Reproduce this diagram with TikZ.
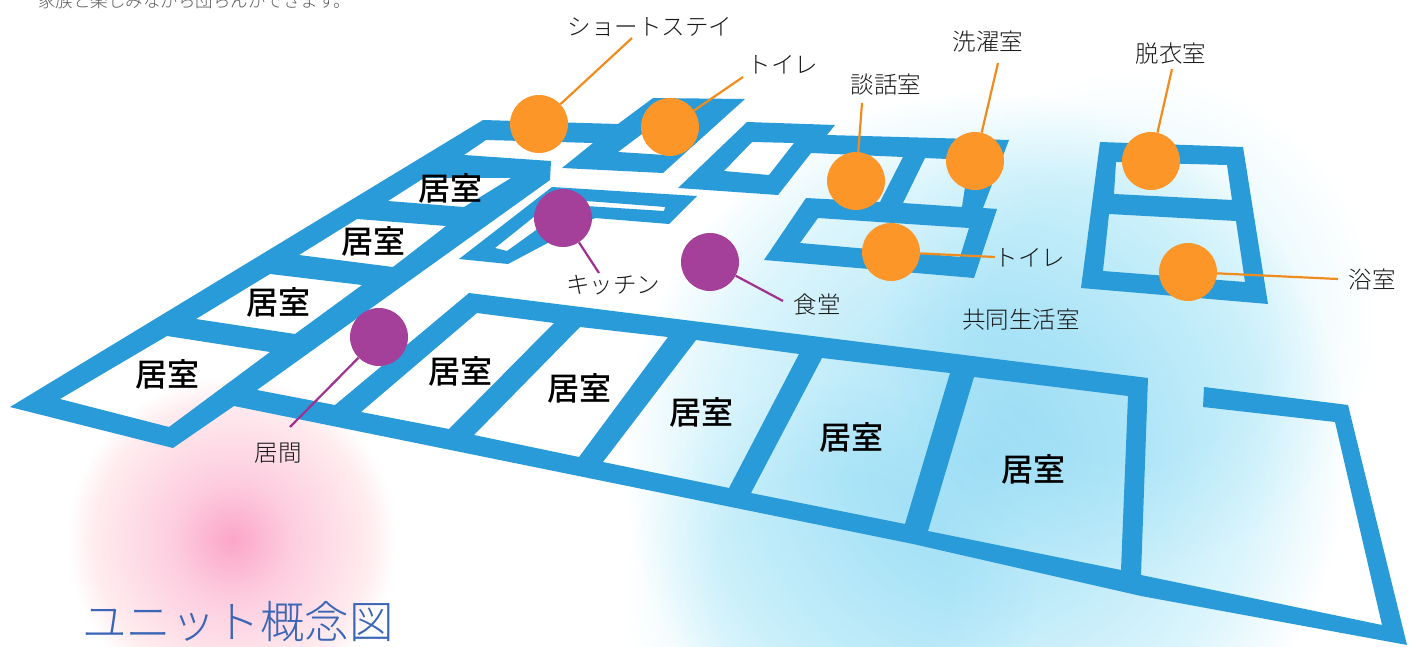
\documentclass[tikz,border=0pt]{standalone}
\usepackage{fontspec}
\setmainfont{Noto Sans CJK JP}
\newfontfamily\jplight{Noto Sans CJK JP Light}
\newfontfamily\jpmed{Noto Sans CJK JP Medium}
\definecolor{floorblue}{HTML}{2A9BD9}
\definecolor{dotorange}{HTML}{FC9628}
\definecolor{dotpurple}{HTML}{A5409A}
\definecolor{leadorange}{HTML}{F08C1E}
\definecolor{leadpurple}{HTML}{A0308F}
\definecolor{titleblue}{HTML}{3A66B5}
\definecolor{pkA}{HTML}{FBA6C8}
\definecolor{pkB}{HTML}{FDCDDF}
\definecolor{pkC}{HTML}{FFECEF}
\definecolor{cyA}{HTML}{A6E1F6}
\definecolor{cyB}{HTML}{BDEAF9}
\definecolor{cyC}{HTML}{DCF5FC}
\definecolor{cyD}{HTML}{E9F9FD}
\pgfdeclareradialshading{pinkblob}{\pgfpointorigin}{color(0bp)=(pkA); color(9bp)=(pkB); color(21bp)=(pkC); color(25bp)=(white); color(50bp)=(white)}
\pgfdeclareradialshading{cyanblob}{\pgfpointorigin}{color(0bp)=(cyA); color(10bp)=(cyB); color(19bp)=(cyC); color(25bp)=(white); color(50bp)=(white)}
\pgfdeclareradialshading{cyansoft}{\pgfpointorigin}{color(0bp)=(cyD); color(14bp)=(cyD); color(25bp)=(white); color(50bp)=(white)}
\tikzset{
  x=1pt,y=-1pt,
  plan/.style={fill=floorblue,draw=none,even odd rule},
  dot/.style={circle,minimum size=58pt,inner sep=0pt,draw=none},
  odot/.style={dot,fill=dotorange},
  pdot/.style={dot,fill=dotpurple},
  olead/.style={draw=leadorange,line width=2.2pt},
  plead/.style={draw=leadpurple,line width=2.2pt},
  lab/.style={inner sep=0pt,text=black!90,font=\jplight\fontsize{23.5}{28}\selectfont},
  room/.style={inner sep=0pt,text=black,font=\jpmed\fontsize{32}{36}\selectfont},
}
\begin{document}
\begin{tikzpicture}
\useasboundingbox (0,0) rectangle (1411,647);
\begin{scope}
\clip (0,0) rectangle (1411,647);
\begin{scope}[blend mode=multiply]
\shade[shading=pinkblob] (232,540) circle[radius=165];
\shade[shading=cyanblob] (985,455) circle[radius=365];
\shade[shading=cyansoft] (1130,320) circle[radius=250];
\shade[shading=cyansoft] (830,590) circle[radius=210];
\end{scope}
% main floor
\fill[plan]
 (10,407)--(483,120)--(618,124)--(653,98)--(745,99)--(663,173)--(562,168)--(593,143)--(486,140)--(464,155)--(551,161)--(550,180)--(257,390)--(335,405)--(469,293)--(1148,378)--(1141,575)--(1382,625)--(1335,422)--(1203,407)--(1204,387)--(1348,405)--(1407,645)--(1141,596)--(913,544)--(234,406)--(173,448)--cycle
 (60,399)--(167,336)--(270,352)--(169,427)--cycle
 (196,319)--(270,274)--(362,285)--(295,334)--cycle
 (299,255)--(357,219)--(446,226)--(393,267)--cycle
 (388,201)--(424,178)--(511,178)--(464,207)--cycle
 (361,412)--(477,313)--(554,323)--(449,429)--cycle
 (474,435)--(580,327)--(668,337)--(579,457)--cycle
 (603,462)--(696,340)--(799,354)--(729,488)--cycle
 (751,493)--(822,358)--(950,373)--(905,524)--cycle
 (928,531)--(974,377)--(1128,396)--(1121,570)--cycle
 (618,152)--(650,128)--(690,130)--(665,155)--cycle;
% kitchen
\fill[plan]
 (459,259)--(552,187)--(697,196)--(669,224)--(595,218)--(508,264)--cycle
 (495,248)--(507,251)--(550,220)--(570,205)--(664,211)--(665,207)--(560,199)--(545,208)--cycle;
% lounge and toilet block
\fill[plan]
 (678,188)--(747,122)--(835,125)--(827,135)--(1009,140)--(983,208)--(997,209)--(974,278)--(764,260)--(806,198)--(880,202)--(903,157)--(811,153)--(778,195)--cycle
 (724,171)--(752,142)--(794,143)--(769,175)--cycle
 (925,158)--(969,160)--(962,207)--(903,203)--cycle
 (818,218)--(969,228)--(960,257)--(800,243)--cycle;
% bath block
\fill[plan]
 (1100,142)--(1243,147)--(1268,304)--(1081,288)--cycle
 (1116,162)--(1227,165)--(1232,200)--(1114,194)--cycle
 (1109,214)--(1236,221)--(1245,282)--(1103,271)--cycle;
% free ends of the leaders
\coordinate (e1) at (632,38);
\coordinate (e2) at (743,77);
\coordinate (e3) at (862,103);
\coordinate (e4) at (998,63);
\coordinate (e5) at (1172,69);
\coordinate (e6) at (995,257);
\coordinate (e7) at (1338,279);
\coordinate (e8) at (599,273);
\coordinate (e9) at (290,427);
\coordinate (e10) at (783,301);
% discs
\node[odot] (c1) at (539,124) {};
\node[odot] (c2) at (670,127) {};
\node[odot] (c3) at (856,181) {};
\node[odot] (c4) at (975,161) {};
\node[odot] (c5) at (1151,161) {};
\node[odot] (c6) at (891,252) {};
\node[odot] (c7) at (1188,272) {};
\node[pdot] (c8) at (563,218) {};
\node[pdot] (c9) at (379,337) {};
\node[pdot] (c10) at (710,262) {};
\draw[olead] (c1)--(e1);
\draw[olead] (c2)--(e2);
\draw[olead] (c3)--(e3);
\draw[olead] (c4)--(e4);
\draw[olead] (c5)--(e5);
\draw[olead] (c6)--(e6);
\draw[olead] (c7)--(e7);
\draw[plead] (c8)--(e8);
\draw[plead] (c9)--(e9);
\draw[plead] (c10)--(e10);
% labels
\node[lab] (l1) at (650,27) {ショートステイ};
\node[lab] (l2) at (783,65) {トイレ};
\node[lab] (l3) at (886,85) {談話室};
\node[lab] (l4) at (988,42) {洗濯室};
\node[lab] (l5) at (1171,54) {脱衣室};
\node[lab] (l6) at (1030,258) {トイレ};
\node[lab] (l7) at (1372,280) {浴室};
\node[lab] (l8) at (613,285) {キッチン};
\node[lab] (l9) at (278,453) {居間};
\node[lab] (l10) at (817,305) {食堂};
\node[lab] (l11) at (1021,320) {共同生活室};
% rooms
\node[room] (r1) at (450,188) {居室};
\node[room] (r2) at (373,241) {居室};
\node[room] (r3) at (278,302) {居室};
\node[room] (r4) at (167,374) {居室};
\node[room] (r5) at (460,371) {居室};
\node[room] (r6) at (579,388) {居室};
\node[room] (r7) at (701,412) {居室};
\node[room] (r8) at (851,437) {居室};
\node[room] (r9) at (1033,469) {居室};
% title and caption
\node[inner sep=0pt,text=titleblue,font=\jplight\fontsize{44.5}{50}\selectfont] (title) at (238,622) {ユニット概念図};
\node[inner sep=0pt,text=black!65,font=\jplight\fontsize{17.5}{20}\selectfont,anchor=west] (cap) at (38,1) {家族と楽しみながら団らんができます。};
\end{scope}
\end{tikzpicture}
\end{document}
